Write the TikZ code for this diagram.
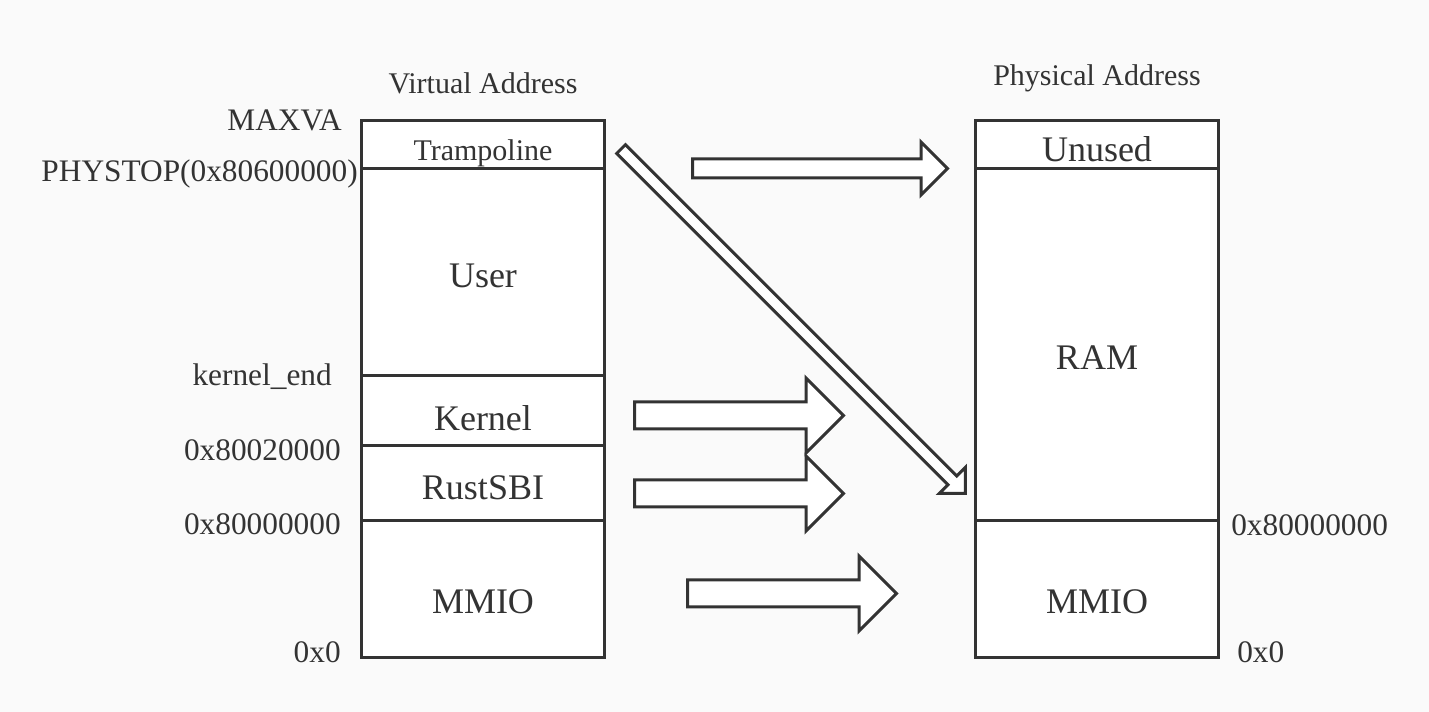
\documentclass[tikz,border=0pt]{standalone}
\usepackage{fontspec}
\setmainfont{Liberation Serif}
\usetikzlibrary{shapes.arrows}
\definecolor{ink}{HTML}{333333}
\definecolor{paper}{HTML}{FAFAFA}
\begin{document}
\begin{tikzpicture}[
  x=0.75pt, y=-0.75pt,
  region/.style={draw=ink, line width=2.25pt, fill=white},
  divider/.style={draw=ink, line width=2.25pt},
  big/.style={text=ink, font=\fontsize{27}{27}\selectfont, anchor=base, inner sep=0pt},
  small/.style={text=ink, font=\fontsize{22.5}{22.5}\selectfont, anchor=base, inner sep=0pt},
  addr/.style={text=ink, font=\fontsize{23.5}{23.5}\selectfont, inner sep=0pt},
  mapto/.style={single arrow, draw=ink, line width=2.25pt, fill=white, anchor=tail,
    single arrow tip angle=90, inner xsep=0pt, inner ysep=9pt,
    single arrow head extend=18pt, minimum height=156.75pt}
]
\useasboundingbox[fill=paper] (0,0) rectangle (1429,712);

% virtual side
\draw[region] (361,121) rectangle (604,658);
\foreach \y in {169,376,446,521}
  \draw[divider] (361,\y) -- (604,\y);
\node[small] (vhead) at (483,94) {Virtual Address};
\node[small] (tramp) at (483,161) {Trampoline};
\node[big] (user) at (483,288) {User};
\node[big] (kernel) at (483,431) {Kernel};
\node[big] (sbi) at (483,500) {RustSBI};
\node[big] (vmmio) at (483,614) {MMIO};

\node[addr, anchor=base east] (maxva) at (342,131) {MAXVA};
\node[addr, anchor=base east] (phystop) at (358,182) {PHYSTOP(0x80600000)};
\node[addr, anchor=base east] (kend) at (332,386) {kernel\_end};
\node[addr, anchor=base east] (kbase) at (341,461) {0x80020000};
\node[addr, anchor=base east] (vram) at (341,535) {0x80000000};
\node[addr, anchor=base east] (vzero) at (341,663) {0x0};

% physical side
\draw[region] (975,121) rectangle (1218,658);
\foreach \y in {169,521}
  \draw[divider] (975,\y) -- (1218,\y);
\node[small] (phead) at (1097,86) {Physical Address};
\node[big] (unused) at (1097,162) {Unused};
\node[big] (ram) at (1097,370) {RAM};
\node[big] (pmmio) at (1097,614) {MMIO};

\node[addr, anchor=base west] (pram) at (1231,536) {0x80000000};
\node[addr, anchor=base west] (pzero) at (1237,663) {0x0};

% mappings
\node[mapto, minimum height=191.25pt, inner ysep=6pt,
  single arrow head extend=12.75pt] (unusedarrow) at (691,168.5) {};
\node[mapto] (kernelarrow) at (633,415.5) {};
\node[mapto] (sbiarrow) at (633,493.5) {};
\node[mapto] (mmioarrow) at (686,593.5) {};
\node[mapto, rotate=-45, minimum height=365.25pt, inner ysep=3.5pt,
  single arrow head extend=9.25pt] (ramarrow) at (620,148) {};
\end{tikzpicture}
\end{document}
